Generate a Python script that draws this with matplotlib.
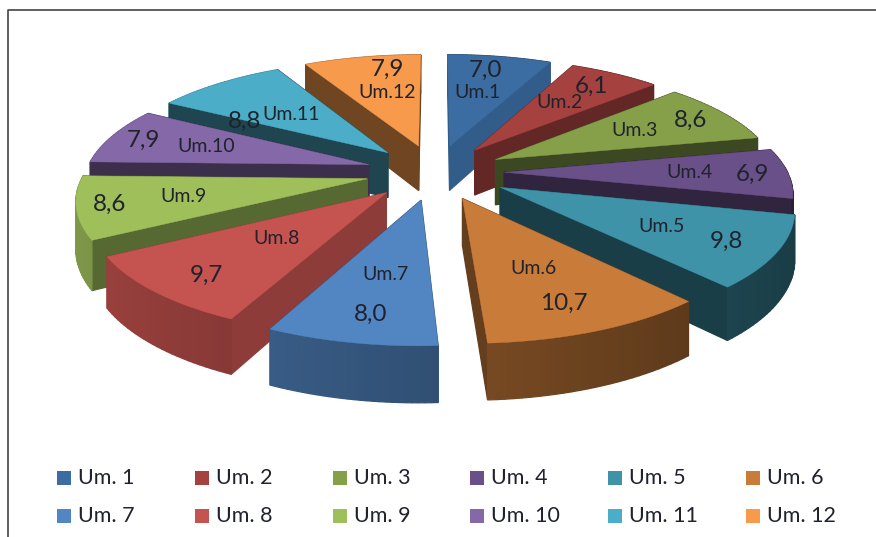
"""Exploded 3-D pie of the twelve Um. shares, drawn with a small projection."""

import numpy as np
import matplotlib
matplotlib.use("Agg")
import matplotlib.pyplot as plt
from matplotlib.patches import Polygon, Rectangle

plt.rcParams["font.family"] = ["Lato", "DejaVu Sans"]

names = ["Um.1", "Um.2", "Um.3", "Um.4", "Um.5", "Um.6",
         "Um.7", "Um.8", "Um.9", "Um.10", "Um.11", "Um.12"]
legend_names = ["Um. 1", "Um. 2", "Um. 3", "Um. 4", "Um. 5", "Um. 6",
                "Um. 7", "Um. 8", "Um. 9", "Um. 10", "Um. 11", "Um. 12"]
values = [7.0, 6.1, 8.6, 6.9, 9.8, 10.7, 8.0, 9.7, 8.6, 7.9, 8.8, 7.9]
value_labels = ["7,0", "6,1", "8,6", "6,9", "9,8", "10,7",
                "8,0", "9,7", "8,6", "7,9", "8,8", "7,9"]
colors = ["#3B6DA3", "#A54240", "#86A04A", "#6A5089", "#3E93A9", "#C97C3A",
          "#5286C3", "#C5534F", "#9FBF5B", "#8568A8", "#4BADC8", "#F79A4C"]
# brightness of the straight side walls, slice by slice
wall_levels = [0.85, 0.6, 0.45, 0.45, 0.42, 0.5, 0.6, 0.72, 0.55, 0.45, 0.4, 0.45]
# how far each slice is pulled out of the pie
explode = [0.245, 0.245, 0.245, 0.245, 0.262, 0.245,
           0.245, 0.245, 0.245, 0.245, 0.245, 0.245]

# layout, in pixels of the 876x537 picture
name_xy = [(477, 92), (560, 103), (635, 131), (690, 173), (662, 226), (533, 269),
           (385, 274), (277, 238), (184, 197), (206, 147), (291, 115), (387, 93)]
value_xy = [(485, 70), (592, 86), (691, 120), (752, 174), (726, 241), (564, 303),
            (371, 314), (206, 275), (110, 204), (143, 140), (245, 121), (387, 69)]

CX, CY = 435, 172
RX, RY = 283, 113
PERSP = 0.156
DEPTH = 46


def project(u, v, drop=0.0):
    """Map disc coordinates (u right, v back) to picture pixels."""
    w = 1 + PERSP * v
    return CX + RX * u / w, CY - RY * v / w + drop / w


def shade(color, factor):
    rgb = np.array(matplotlib.colors.to_rgb(color))
    return tuple(np.clip(rgb * factor, 0, 1))


fig = plt.figure(figsize=(8.76, 5.37), dpi=100)
ax = fig.add_axes([0, 0, 1, 1])
ax.set_xlim(0, 876)
ax.set_ylim(537, 0)
ax.axis("off")

# chart frame, open at the right and the bottom like the scan
ax.plot([8, 8, 876], [537, 10, 10], color="#444444", lw=1.2, solid_capstyle="butt")

shares = np.array(values) / sum(values) * 2 * np.pi
ends = np.cumsum(shares)
starts = ends - shares

# back slices first so the front ones cover them
order = np.argsort(np.cos((starts + ends) / 2))[::-1]
for i in order:
    mid = (starts[i] + ends[i]) / 2
    tip_u, tip_v = explode[i] * np.sin(mid), explode[i] * np.cos(mid)
    arc = np.linspace(starts[i], ends[i], 28)
    rim_u = tip_u + np.sin(arc)
    rim_v = tip_v + np.cos(arc)
    top = [project(u, v) for u, v in zip(rim_u, rim_v)]
    low = [project(u, v, DEPTH) for u, v in zip(rim_u, rim_v)]
    tip_top = project(tip_u, tip_v)
    tip_low = project(tip_u, tip_v, DEPTH)

    faces = []
    for k in range(len(arc) - 1):
        level = 0.6 - 0.2 * np.sin((arc[k] + arc[k + 1]) / 2)
        faces.append(([top[k], top[k + 1], low[k + 1], low[k]], shade(colors[i], level)))
    for pt_top, pt_low in ((top[0], low[0]), (top[-1], low[-1])):
        faces.append(([tip_top, pt_top, pt_low, tip_low], shade(colors[i], wall_levels[i])))
    faces.sort(key=lambda face: np.mean([p[1] for p in face[0]]))
    for pts, col in faces:
        ax.add_patch(Polygon(pts, closed=True, facecolor=col, edgecolor=col, lw=0.9))
    ax.add_patch(Polygon([tip_top] + top, closed=True, facecolor=colors[i],
                         edgecolor=colors[i], lw=0.3))

for i in range(len(values)):
    ax.text(*name_xy[i], names[i], fontsize=14, color="#20222c", ha="center", va="center")
    ax.text(*value_xy[i], value_labels[i], fontsize=17.5, color="#20222c", ha="center", va="center")

# legend laid out on the reference's even grid
for i, label in enumerate(legend_names):
    col, row = i % 6, i // 6
    x = 57 + col * 137.8
    y = 478 + row * 37.5
    ax.add_patch(Rectangle((x, y - 7), 14, 14, facecolor=colors[i], edgecolor="none"))
    ax.text(x + 21, y, label, fontsize=15.5, color="#20222c", ha="left", va="center")

fig.savefig("out.png", dpi=100)
plt.close(fig)
